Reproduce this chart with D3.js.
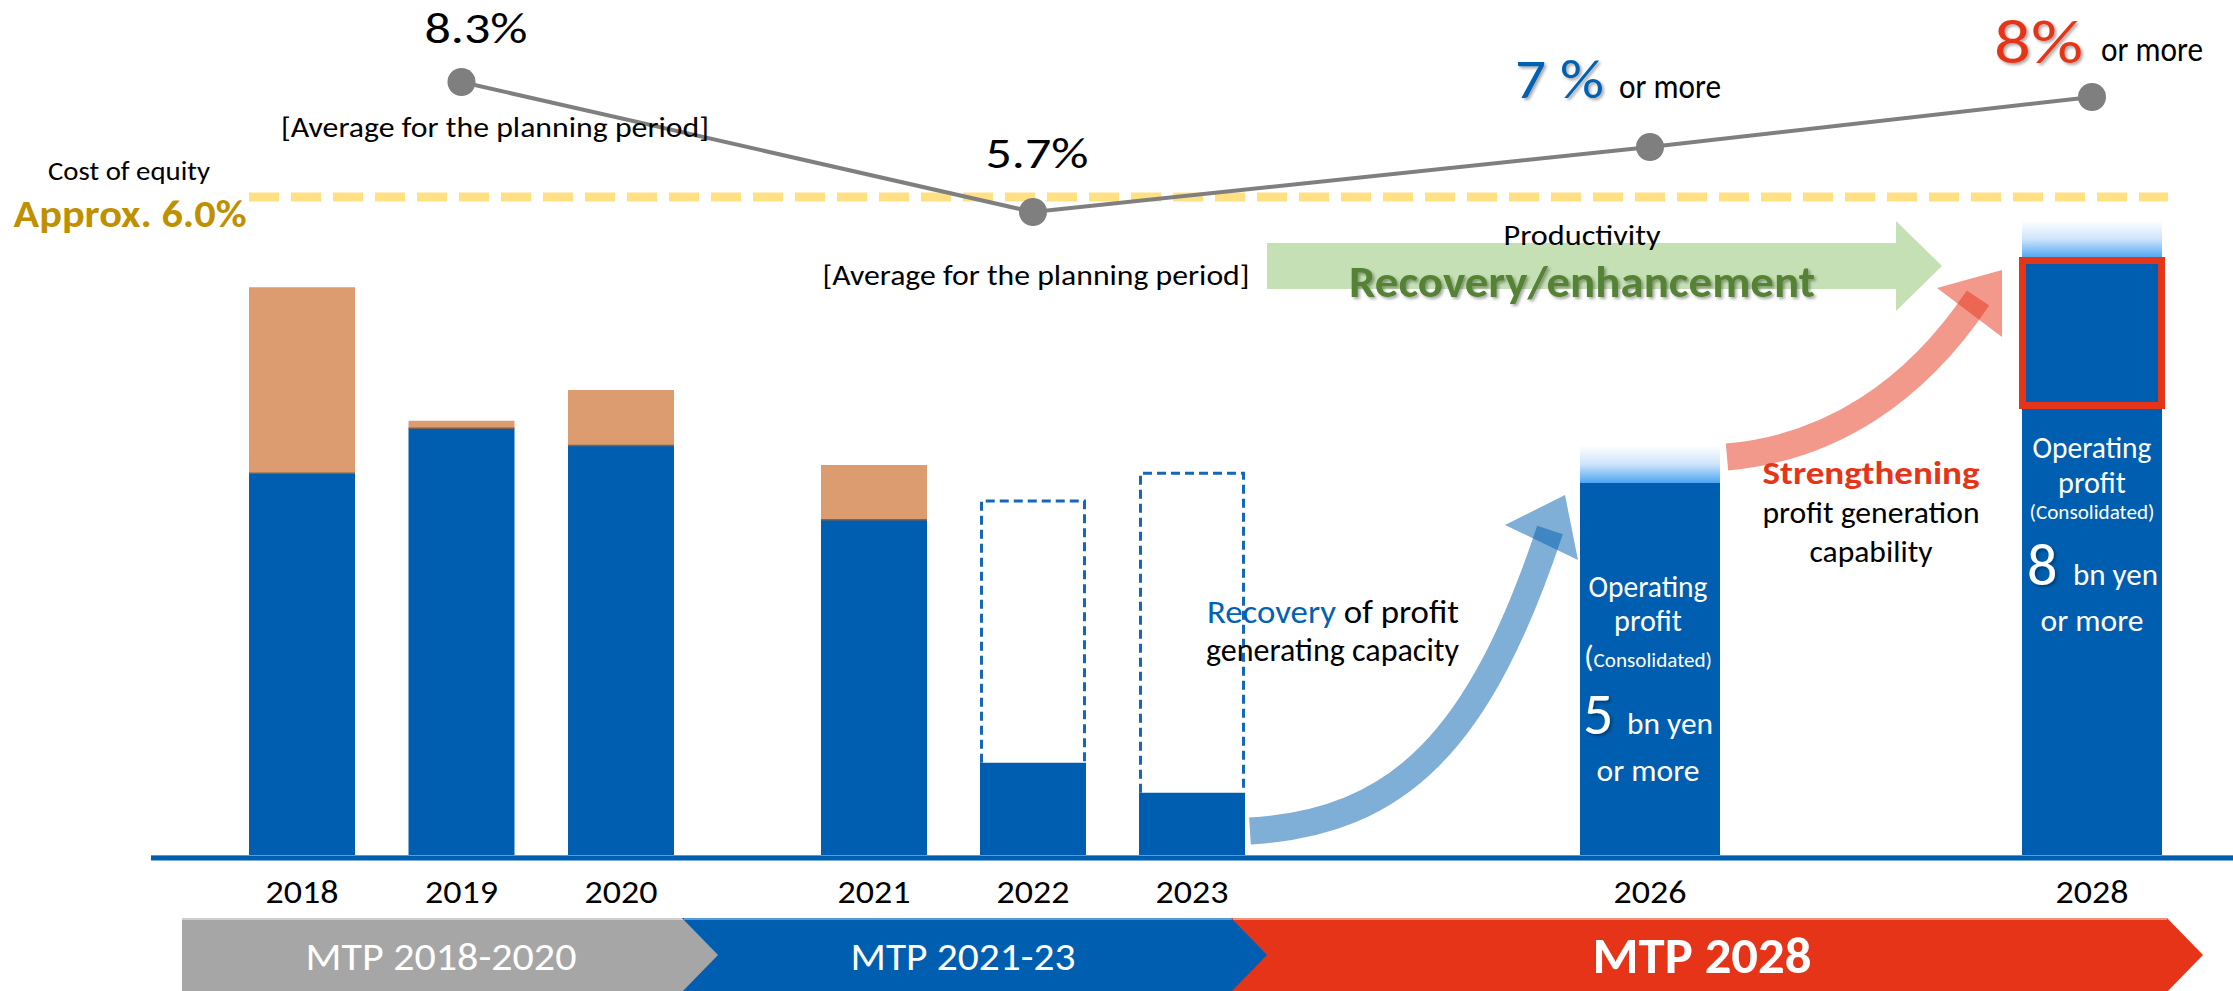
<!DOCTYPE html>
<html>
<head>
<meta charset="utf-8">
<script src="https://d3js.org/d3.v7.min.js"></script>
<style>
    body { margin: 0; background: #fff; }
    svg { display: block; font-family: Carlito, Calibri, Lato, "Open Sans", sans-serif; }
</style>
</head>
<body>
<div id="chart"></div>
<script>

// ---- data (bn yen / %) ----
const years = [2018, 2019, 2020, 2021, 2022, 2023, 2026, 2028];
const operatingProfit = [5.13, 5.73, 5.50, 4.51, 1.27, 0.87, 5.0, 8.0];
const otherProfit = [2.48, 0.10, 0.74, 0.73, 0, 0, 0, 0];
const targetYears = [2026, 2028];
const planYears = [2022, 2023];
const planValues = [4.76, 5.13];
const roeYears = [2019, 2022, 2026, 2028];
const roeValues = [8.3, 5.7, 7.0, 8.0];
const costOfEquity = 6.0;
const mtpLabels = ["MTP 2018-2020", "MTP 2021-23", "MTP 2028"];

const BLUE = "#005EB0", ORANGE = "#DC9C6F", RED = "#E63419", GRAY = "#7F7F7F";

const width = 2233, height = 991;

let svg = d3.select("#chart").append("svg")
    .attr("width", width)
    .attr("height", height);

let defs = svg.append("defs");

let shadow = defs.append("filter").attr("id", "shadow")
    .attr("x", "-10%").attr("y", "-20%").attr("width", "130%").attr("height", "150%");
shadow.append("feDropShadow")
    .attr("dx", 2).attr("dy", 2).attr("stdDeviation", 1.5)
    .attr("flood-color", "#000").attr("flood-opacity", 0.35);

let fade = defs.append("linearGradient").attr("id", "fade")
    .attr("x1", 0).attr("y1", 0).attr("x2", 0).attr("y2", 1);
fade.append("stop").attr("offset", 0).attr("stop-color", "#ffffff");
fade.append("stop").attr("offset", 0.5).attr("stop-color", "#cde4fb");
fade.append("stop").attr("offset", 1).attr("stop-color", "#4ea5f3");

// scales (x is piecewise because the years are grouped by plan period)
let x = d3.scaleLinear()
    .domain([2018, 2020, 2021, 2023, 2026, 2028])
    .range([302, 621, 874, 1192, 1650, 2092]);
let y = d3.scaleLinear().domain([0, 8]).range([858, 258]);
let yRoe = d3.scaleLinear().domain([6, 8]).range([197, 97]);

let barW = d => targetYears.includes(d) ? 140 : 106;

let bars = years.map((yr, i) => ({year: yr, op: operatingProfit[i], other: otherProfit[i]}));

// ---- bars ----
let gBars = svg.append("g");

gBars.selectAll(".op").data(bars).enter().append("rect")
    .attr("x", d => x(d.year) - barW(d.year) / 2)
    .attr("width", d => barW(d.year))
    .attr("y", d => y(d.op))
    .attr("height", d => y(0) - y(d.op))
    .attr("fill", BLUE);

gBars.selectAll(".other").data(bars.filter(d => d.other > 0)).enter().append("rect")
    .attr("x", d => x(d.year) - barW(d.year) / 2)
    .attr("width", d => barW(d.year))
    .attr("y", d => y(d.op + d.other))
    .attr("height", d => y(d.op) - y(d.op + d.other))
    .attr("fill", ORANGE);

gBars.selectAll(".sep").data(bars.filter(d => d.other > 0)).enter().append("line")
    .attr("x1", d => x(d.year) - barW(d.year) / 2)
    .attr("x2", d => x(d.year) + barW(d.year) / 2)
    .attr("y1", d => y(d.op)).attr("y2", d => y(d.op))
    .attr("stroke", "#7a6450").attr("stroke-width", 1.5);

// faded tops on the targets
gBars.selectAll(".fade").data(bars.filter(d => targetYears.includes(d.year))).enter().append("rect")
    .attr("x", d => x(d.year) - barW(d.year) / 2)
    .attr("width", d => barW(d.year))
    .attr("y", d => y(d.op + 0.5))
    .attr("height", d => y(d.op) - y(d.op + 0.5))
    .attr("fill", "url(#fade)");

// dashed plan outlines
let plans = planYears.map((yr, i) => ({year: yr, plan: planValues[i], op: operatingProfit[years.indexOf(yr)]}));
gBars.selectAll(".plan").data(plans).enter().append("path")
    .attr("d", d => {
        let x0 = x(d.year) - barW(d.year) / 2 + 1.5, x1 = x(d.year) + barW(d.year) / 2 - 1.5;
        return `M${x0},${y(d.op)} V${y(d.plan)} H${x1} V${y(d.op)}`;
    })
    .attr("fill", "none")
    .attr("stroke", "#1467BA")
    .attr("stroke-width", 3)
    .attr("stroke-dasharray", "9,5");

// red box on 2028 (6 to 8 bn)
gBars.append("rect")
    .attr("x", x(2028) - barW(2028) / 2 + 0.5)
    .attr("width", barW(2028) - 1)
    .attr("y", y(8) + 2.5)
    .attr("height", y(6) - y(8) - 5)
    .attr("fill", "none")
    .attr("stroke", RED)
    .attr("stroke-width", 7);

// base line
svg.append("line")
    .attr("x1", 151).attr("x2", width)
    .attr("y1", y(0)).attr("y2", y(0))
    .attr("stroke", BLUE).attr("stroke-width", 5);
svg.append("line")
    .attr("x1", 151).attr("x2", width)
    .attr("y1", y(0) - 2.5).attr("y2", y(0) - 2.5)
    .attr("stroke", "#5b9bd5").attr("stroke-width", 1);

// year labels
svg.selectAll(".year").data(years).enter().append("text")
    .attr("x", d => x(d))
    .attr("y", 903)
    .attr("text-anchor", "middle")
    .attr("font-size", 33)
    .attr("textLength", 73)
    .attr("lengthAdjust", "spacingAndGlyphs")
    .text(d => d);

// ---- plan period band ----
let bandEdges = [182, 684, 1233, 2167];
let bandColors = ["#A6A6A6", BLUE, RED];
let bandTops = ["#cfcfcf", "#5b9bd5", "#f0907e"];
let bTop = 918, bMid = 955, bBot = 992, tip = 36;
let gBand = svg.append("g");
mtpLabels.forEach((lab, i) => {
    let a = bandEdges[i], b = bandEdges[i + 1];
    let pts = i === 0
        ? [[a, bTop], [b, bTop], [b + tip, bMid], [b, bBot], [a, bBot]]
        : [[a - 2, bTop], [b, bTop], [b + tip, bMid], [b, bBot], [a - 2, bBot], [a + tip - 2, bMid]];
    gBand.append("polygon")
        .attr("points", pts.map(p => p.join(",")).join(" "))
        .attr("fill", bandColors[i]);
    gBand.append("line")
        .attr("x1", a).attr("x2", b)
        .attr("y1", bTop + 1).attr("y2", bTop + 1)
        .attr("stroke", bandTops[i]).attr("stroke-width", 2);
});

let bandText = [
    {x: 441, y: 970, size: 38, w: 271, weight: 400},
    {x: 963, y: 970, size: 38, w: 225, weight: 400},
    {x: 1702, y: 973, size: 50, w: 219, weight: 700}
];
mtpLabels.forEach((lab, i) => {
    svg.append("text")
        .attr("x", bandText[i].x).attr("y", bandText[i].y)
        .attr("text-anchor", "middle")
        .attr("font-size", bandText[i].size)
        .attr("font-weight", bandText[i].weight)
        .attr("fill", "#fff")
        .attr("textLength", bandText[i].w)
        .attr("lengthAdjust", "spacingAndGlyphs")
        .text(lab);
});

// ---- green productivity arrow ----
svg.append("polygon")
    .attr("points", "1267,243 1896,243 1896,221 1942,266 1896,311 1896,289 1267,289")
    .attr("fill", "#C5E0B4");

// ---- curved arrows ----
function curvedArrow(d, head, color) {
    svg.append("path")
        .attr("d", d)
        .attr("fill", "none")
        .attr("stroke", color)
        .attr("stroke-opacity", 0.5)
        .attr("stroke-width", 27);
    svg.append("polygon")
        .attr("points", head)
        .attr("fill", color)
        .attr("fill-opacity", 0.5);
}
curvedArrow("M1250,831 C1400,822 1480,740 1550,530", "1505,525 1565,495 1578,560", BLUE);
curvedArrow("M1727,457 C1830,448 1915,392 1978,298", "1937,288 2002,270 2002,337", RED);

// ---- cost of equity + ROE line ----
svg.append("line")
    .attr("x1", 249).attr("x2", 2168)
    .attr("y1", yRoe(costOfEquity)).attr("y2", yRoe(costOfEquity))
    .attr("stroke", "#FFE083")
    .attr("stroke-width", 9)
    .attr("stroke-dasharray", "30,12");

let roe = roeYears.map((yr, i) => ({year: yr, v: roeValues[i]}));
svg.append("path")
    .datum(roe)
    .attr("d", d3.line().x(d => x(d.year)).y(d => yRoe(d.v)))
    .attr("fill", "none")
    .attr("stroke", GRAY)
    .attr("stroke-width", 4);
svg.selectAll(".roe").data(roe).enter().append("circle")
    .attr("cx", d => x(d.year))
    .attr("cy", d => yRoe(d.v))
    .attr("r", 14)
    .attr("fill", GRAY);

// ---- text annotations ----
function label(o) {
    let t = svg.append("text")
        .attr("x", o.x).attr("y", o.y)
        .attr("text-anchor", o.anchor || "middle")
        .attr("font-size", o.size)
        .attr("font-weight", o.weight || 400)
        .attr("fill", o.color || "#000");
    if (o.w) t.attr("textLength", o.w).attr("lengthAdjust", "spacingAndGlyphs");
    if (o.shadow) t.attr("filter", "url(#shadow)");
    if (o.parts) {
        o.parts.forEach(p => {
            let s = t.append("tspan").text(p.t);
            if (p.color) s.attr("fill", p.color);
            if (p.size) s.attr("font-size", p.size);
        });
    } else {
        t.text(o.text);
    }
    return t;
}

label({text: d3.format(".1f")(roeValues[0]) + "%", x: 476, y: 43, size: 44, w: 103});
label({text: "[Average for the planning period]", x: 495, y: 137, size: 28, w: 428});
label({text: d3.format(".1f")(roeValues[1]) + "%", x: 1037, y: 168, size: 44, w: 103});
label({text: "[Average for the planning period]", x: 1036, y: 285, size: 28, w: 427});

label({text: "Cost of equity", x: 129, y: 180, size: 26, w: 162});
label({text: "Approx. " + d3.format(".1f")(costOfEquity) + "%", x: 130, y: 227, size: 38, weight: 700, color: "#BF9000", w: 233});

label({text: roeValues[2] + " %", x: 1515, y: 98, size: 56, color: "#0062B1", anchor: "start", w: 89, shadow: true});
label({text: "or more", x: 1619, y: 98, size: 34, anchor: "start", w: 102});
label({text: roeValues[3] + "%", x: 1994, y: 63, size: 62, color: RED, anchor: "start", w: 89, shadow: true});
label({text: "or more", x: 2101, y: 61, size: 34, anchor: "start", w: 102});

label({text: "Productivity", x: 1582, y: 245, size: 28, w: 157});
label({text: "Recovery/enhancement", x: 1582, y: 297, size: 44, weight: 600, color: "#548235", w: 466, shadow: true});

label({parts: [{t: "Recovery", color: "#0062B1"}, {t: " of profit"}], x: 1207, y: 623, size: 32, anchor: "start", w: 252});
label({text: "generating capacity", x: 1206, y: 661, size: 32, anchor: "start", w: 253});

label({text: "Strengthening", x: 1871, y: 484, size: 32, weight: 700, color: RED, w: 217});
label({text: "profit generation", x: 1871, y: 523, size: 31, w: 217});
label({text: "capability", x: 1871, y: 562, size: 31, w: 123});

// 2026 target
let c26 = x(2026) - 2;
label({text: "Operating", x: c26, y: 597, size: 30, color: "#fff", w: 119});
label({text: "profit", x: c26, y: 631, size: 30, color: "#fff", w: 68});
label({parts: [{t: "(", size: 30}, {t: "Consolidated)"}], x: c26, y: 667, size: 20, color: "#fff", w: 128});
label({text: operatingProfit[6], x: 1583, y: 734, size: 60, color: "#fff", anchor: "start", shadow: true});
label({text: "bn yen", x: 1627, y: 734, size: 30, color: "#fff", anchor: "start", w: 86});
label({text: "or more", x: c26, y: 781, size: 30, color: "#fff", w: 103});

// 2028 target
let c28 = x(2028);
label({text: "Operating", x: c28, y: 458, size: 30, color: "#fff", w: 119});
label({text: "profit", x: c28, y: 493, size: 30, color: "#fff", w: 68});
label({text: "(Consolidated)", x: c28, y: 519, size: 20, color: "#fff", w: 125});
label({text: operatingProfit[7], x: 2027, y: 585, size: 60, color: "#fff", anchor: "start", shadow: true});
label({text: "bn yen", x: 2073, y: 585, size: 30, color: "#fff", anchor: "start", w: 85});
label({text: "or more", x: c28, y: 631, size: 30, color: "#fff", w: 103});

</script>
</body>
</html>
